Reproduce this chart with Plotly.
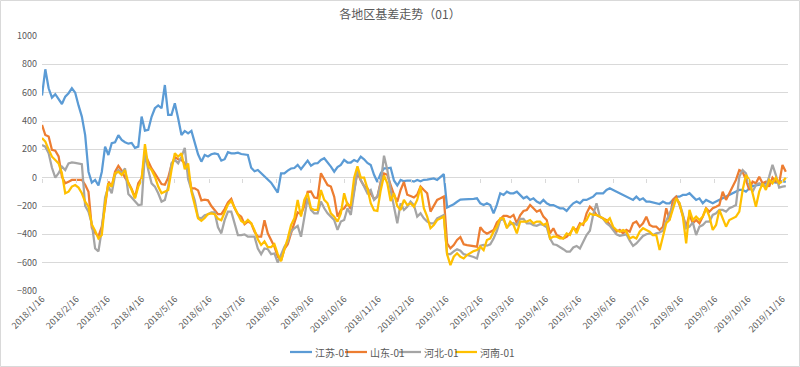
import pandas as pd
import plotly.graph_objects as go

# ---------------- data ----------------
start_date = "2018-01-16"
n_points = 225
dates = pd.date_range(start_date, periods=n_points, freq="3D")

tick_dates = ["2018-01-16", "2018-02-16", "2018-03-16", "2018-04-16", "2018-05-16",
              "2018-06-16", "2018-07-16", "2018-08-16", "2018-09-16", "2018-10-16",
              "2018-11-16", "2018-12-16", "2019-01-16", "2019-02-16", "2019-03-16",
              "2019-04-16", "2019-05-16", "2019-06-16", "2019-07-16", "2019-08-16",
              "2019-09-16", "2019-10-16", "2019-11-16"]
tick_labels = ["2018/1/16", "2018/2/16", "2018/3/16", "2018/4/16", "2018/5/16",
               "2018/6/16", "2018/7/16", "2018/8/16", "2018/9/16", "2018/10/16",
               "2018/11/16", "2018/12/16", "2019/1/16", "2019/2/16", "2019/3/16",
               "2019/4/16", "2019/5/16", "2019/6/16", "2019/7/16", "2019/8/16",
               "2019/9/16", "2019/10/16", "2019/11/16"]

jiangsu = [580,765,631,565,589,550,520,572,596,631, 600,510,431,300,42,-35,-16,-55,40,219,
           160,243,250,300,266,250,240,245,210,219, 431,332,337,430,490,510,490,654,443,443,
           525,420,301,330,313,330,243,165,113,160, 150,165,172,165,120,130,180,172,172,176,
           167,165,160,70,45,54,31,10,-15,-35, -70,-105,30,31,50,65,68,90,60,90,
           120,85,100,102,125,137,110,78,42,75, 90,125,107,107,125,113,148,130,104,90,
           20,-30,30,65,65,70,-20,-55,
           -16,-25,-20,-20,-28,-16,-25,-15,-14,-10, -5,-16,7,25,-210,-200,-187,-170,-155,-153,
           -153,-153,-150,-146,-181,-193,-181,-193,-252,-190, -110,-122,-99,-110,-110,-99,-122,-146,-134,-157,
           -146,-169,-181,-157,-181,-193,-193,-205,-216,-216, -235,-205,-181,-169,-181,-157,-157,-146,-134,-110,
           -110,-110,-87,-75,-87,-99,-110,-122,-134,-146, -157,-134,-157,-146,-169,-169,-176,-181,-186,-169,
           -181,-181,-157,-134,-134,-122,-122,-110,-134,-157, -146,-181,-157,-169,-181,-169,-157,-146,-134,-122,
           -110,-99,-87,-87,-99,-75,-60,-55,-50,-45, -40,-35,-30,-35,-30,-25,-30]

shandong = [372,301,290,196,190,150,7,-40,-28,-16, -16,-16,-16,-50,-100,-355,-390,-415,-346,-200,
            -28,-63,42,83,50,0,-35,-80,-140,-40, -5,165,110,65,30,-10,-45,-50,0,90,
            145,130,125,101,40,-75,-75,-90,-160,-155, -160,-200,-228,-258,-258,-222,-175,-150,-215,-258,
            -275,-328,-310,-322,-381,-416,-416,-300,-393,-440, -487,-558,-585,-505,-470,-393,-310,-245,-258,-200,
            -100,-98,-140,-145,31,-16,-52,-63,-134,-275, -228,-216,-181,-220,-100,40,-20,-58,-75,-110,
            -150,-135,-30,30,20,-52,-120,-170,
            -87,-30,-120,-130,-140,-120,-63,-87,-110,-240, -193,-157,-146,-134,-464,-499,-476,-440,-420,-470,
            -476,-478,-482,-487,-350,-380,-395,-385,-370,-315, -293,-270,-270,-280,-263,-322,-265,-235,-228,-193,
            -216,-240,-228,-275,-299,-393,-357,-405,-417,-429, -417,-393,-357,-369,-322,-334,-252,-205,-228,-263,
            -275,-287,-299,-334,-357,-381,-369,-393,-369,-381, -322,-310,-346,-322,-275,-334,-346,-346,-369,-346,
            -216,-299,-157,-134,-193,-275,-346,-263,-322,-299, -322,-275,-216,-240,-216,-205,-193,-99,-157,-110,
            -63,-16,54,42,-16,-87,-28,-40,7,-40, -28,-63,0,-28,-40,90,42]

hebei = [231,219,172,70,0,31,78,54,101,108, 104,100,95,-200,-240,-325,-500,-520,-369,-140,
         -63,-110,19,54,31,66,-115,-140,-170,-193, -190,175,54,-40,-63,-110,-169,-157,-63,101,
         125,101,148,210,-10,-90,-160,-280,-287,-265, -258,-245,-245,-350,-393,-300,-240,-240,-315,-405,
         -405,-400,-417,-417,-417,-500,-540,-500,-505,-540, -535,-600,-545,-487,-452,-380,-357,-340,-417,-275,
         -146,-228,-252,-252,-169,-216,-252,-275,-299,-369, -310,-299,-216,-263,-100,54,-16,-63,-110,-87,
         -157,-134,-40,155,54,-87,-193,-322,
         -181,-228,-205,-169,-193,-275,-252,-287,-310,-322, -322,-287,-275,-263,-540,-540,-520,-505,-515,-540,
         -546,-552,-560,-570,-480,-475,-480,-470,-430,-375, -300,-293,-350,-330,-320,-334,-290,-290,-322,-322,
         -335,-340,-328,-334,-350,-430,-470,-475,-493,-505, -522,-522,-493,-482,-500,-450,-405,-375,-260,-181,
         -275,-290,-322,-340,-370,-400,-411,-405,-400,-445, -482,-464,-435,-411,-399,-393,-405,-393,-387,-375,
         -305,-250,-193,-146,-181,-258,-358,-346,-316,-405, -346,-334,-310,-310,-263,-252,-228,-228,-240,-216,
         -205,-193,7,54,31,-52,-99,-52,-40,-52, -63,7,90,20,-70,-63,-60]

henan = [280,255,200,148,125,101,31,-110,-99,-63, -52,-70,-110,-170,-205,-330,-375,-430,-405,-180,
         -40,-63,31,42,19,54,-40,-87,-146,-63, -16,237,78,54,7,-63,-110,-99,-87,54,
         172,148,172,60,100,-98,-190,-287,-305,-285, -257,-252,-258,-290,-300,-250,-190,-165,-210,-265,
         -305,-322,-298,-322,-370,-435,-475,-450,-490,-490, -470,-540,-590,-505,-430,-335,-287,-157,-275,-157,
         -110,-216,-228,-228,-87,-157,-181,-252,-275,-310, -252,-110,-193,-193,0,80,0,0,-75,-180,
         -230,-235,-90,15,-40,-165,-110,-200,
         -228,-157,-193,-181,-205,-157,-63,-216,-275,-357, -334,-299,-287,-275,-540,-617,-558,-534,-558,-570,
         -546,-530,-518,-511,-487,-511,-440,-429,-381,-346, -287,-287,-357,-310,-334,-393,-310,-310,-310,-299,
         -322,-310,-310,-334,-322,-429,-417,-417,-429,-429, -393,-405,-346,-393,-334,-322,-299,-252,-263,-263,
         -275,-287,-310,-287,-346,-369,-381,-369,-381,-429, -417,-429,-381,-357,-369,-381,-405,-405,-511,-417,
         -322,-299,-228,-146,-181,-275,-464,-228,-299,-275, -299,-275,-216,-275,-369,-334,-228,-287,-346,-299,
         -287,-275,-240,-87,19,-16,-110,-205,-99,-40, -87,-16,-40,0,-40,-28,0]

series_names = ["江苏-01", "山东-01", "河北-01", "河南-01"]
series_values = [jiangsu, shandong, hebei, henan]
series_colors = ["#5B9BD5", "#ED7D31", "#A5A5A5", "#FFC000"]

y_ticks = [1000, 800, 600, 400, 200, 0, -200, -400, -600, -800]

# ---------------- layout geometry (pixels) ----------------
W, H = 800, 367
L, R, T, B = 42, 12, 36, 76
PW, PH = W - L - R, H - T - B


def px_x(p):
    return (p - L) / PW


def px_y(p):
    return (H - B - p) / PH


FONT = "Noto Sans CJK SC, sans-serif"
fig = go.Figure()
for name, vals, col in zip(series_names, series_values, series_colors):
    fig.add_trace(go.Scatter(x=dates, y=vals, name=name, mode="lines",
                             line=dict(color=col, width=2.25), showlegend=False))

# invisible trace on secondary x-axis to draw tick marks on the zero line
fig.add_trace(go.Scatter(x=[dates[0]], y=[0], xaxis="x2", showlegend=False,
                         mode="markers", marker=dict(opacity=0), hoverinfo="skip"))

x_range = ["2018-01-16", "2019-11-21"]
fig.update_layout(
    width=W, height=H,
    margin=dict(l=L, r=R, t=T, b=B, autoexpand=False),
    paper_bgcolor="white", plot_bgcolor="white",
    title=dict(text="各地区基差走势（01）", x=0.5, xanchor="center",
               yref="container", y=1 - 15 / H, yanchor="middle",
               font=dict(family=FONT, size=12, color="#595959")),
    font=dict(family=FONT, color="#595959"),
    xaxis=dict(type="date", range=x_range, tickvals=tick_dates, ticktext=tick_labels,
               tickangle=-45, tickfont=dict(size=9, color="#595959"), automargin=False,
               showgrid=False, zeroline=False, showline=False, ticks=""),
    xaxis2=dict(type="date", range=x_range, overlaying="x", anchor="free",
                position=800 / 1800, tickvals=tick_dates, showticklabels=False,
                ticks="outside", ticklen=4, tickcolor="#d9d9d9", showline=False,
                showgrid=False, zeroline=False, automargin=False),
    yaxis=dict(range=[-800, 1000], tickvals=y_ticks, showgrid=True, gridcolor="#d9d9d9",
               gridwidth=1, zeroline=True, zerolinecolor="#d9d9d9", zerolinewidth=1,
               tickfont=dict(size=9, color="#595959"), showline=False, ticks="",
               ticklabelstandoff=4, automargin=False),
    showlegend=False,
)

# chart-area border
fig.add_shape(type="rect", xref="paper", yref="paper",
              x0=px_x(0.5), x1=px_x(W - 0.5), y0=px_y(H - 0.5), y1=px_y(0.5),
              line=dict(color="#d9d9d9", width=1), fillcolor="rgba(0,0,0,0)", layer="below")

# legend drawn as line samples + labels
legend_y = 352
legend_line_x = [290, 345, 399, 455]
for name, col, lx in zip(series_names, series_colors, legend_line_x):
    fig.add_shape(type="line", xref="paper", yref="paper",
                  x0=px_x(lx), x1=px_x(lx + 22), y0=px_y(legend_y), y1=px_y(legend_y),
                  line=dict(color=col, width=2.25))
    fig.add_annotation(xref="paper", yref="paper", x=px_x(lx + 23), y=px_y(legend_y),
                       text=name, showarrow=False, xanchor="left", yanchor="middle",
                       font=dict(family=FONT, size=10, color="#595959"))

fig.write_html("out.html", config={"displayModeBar": False},
               post_script="document.body.style.margin='0';document.body.style.overflow='hidden';")
